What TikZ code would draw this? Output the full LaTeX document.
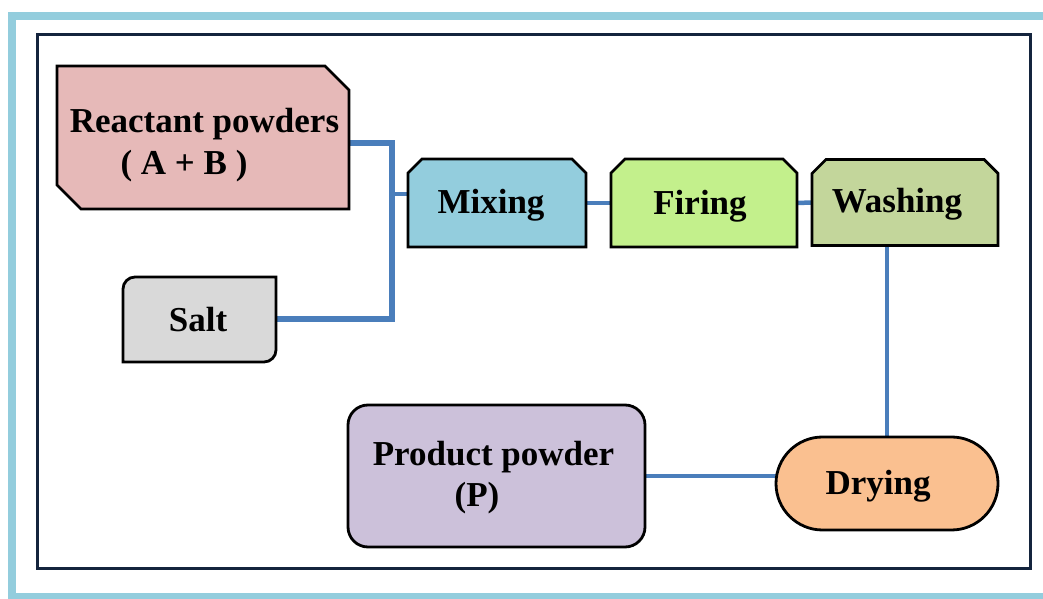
\documentclass[tikz,border=0pt]{standalone}
\usepackage{fontspec}
\setmainfont{Liberation Serif}
\usetikzlibrary{calc}

\definecolor{framecyan}{HTML}{93CDDD}
\definecolor{framenavy}{HTML}{14243D}
\definecolor{linkblue}{HTML}{4A7EBB}
\definecolor{reactpink}{HTML}{E6B9B8}
\definecolor{mixblue}{HTML}{93CDDD}
\definecolor{firegreen}{HTML}{C3F08C}
\definecolor{washolive}{HTML}{C3D69B}
\definecolor{saltgray}{HTML}{D9D9D9}
\definecolor{prodlilac}{HTML}{CCC1DA}
\definecolor{dryorange}{HTML}{FAC090}

% process box with both top corners cut off
\newcommand\chamfertop[2]{%
  \filldraw[outline, fill=#2]
    (#1.south west) -- ([yshift=-14pt]#1.north west) -- ([xshift=14pt]#1.north west)
    -- ([xshift=-14pt]#1.north east) -- ([yshift=-14pt]#1.north east)
    -- (#1.south east) -- cycle;}

\begin{document}
\begin{tikzpicture}[x=1pt,y=1pt,
  slot/.style={rectangle, draw=none, inner sep=0pt, outer sep=0pt},
  outline/.style={draw=black, line width=2.8pt, line join=miter},
  boxtext/.style={anchor=base, inner sep=0pt, font=\fontsize{35}{42}\selectfont\bfseries},
  link/.style={draw=linkblue, line width=3.5pt},
  midlink/.style={draw=linkblue, line width=4.5pt},
  thicklink/.style={draw=linkblue, line width=6pt},
]
\useasboundingbox (0,0) rectangle (1043,599);

% frames
\draw[framecyan, line width=8pt] (12,2) rectangle (1060,583);
\draw[framenavy, line width=3pt] (37,30) rectangle (1030,564.5);

% box placeholders (geometry and anchors)
\node[slot, minimum width=292pt, minimum height=143pt] (reactant) at (203,461.5) {};
\node[slot, minimum width=178pt, minimum height=88pt] (mixing) at (497,396) {};
\node[slot, minimum width=186pt, minimum height=88pt] (firing) at (704,396) {};
\node[slot, minimum width=186pt, minimum height=86pt] (washing) at (905,396.5) {};
\node[slot, minimum width=153pt, minimum height=85pt] (salt) at (199.5,279.5) {};
\node[slot, minimum width=297pt, minimum height=142pt] (product) at (496.5,123) {};
\node[slot, minimum width=222pt, minimum height=93pt] (drying) at (887,115.5) {};

% connectors
\coordinate (bustop) at (392,456);
\coordinate (busbot) at (392,279.5);
\coordinate (tap) at (392,405);
\draw[thicklink] (bustop -| reactant.east) -- (bustop) -- (busbot) -- (salt.east);
\draw[link] (tap) -- (tap -| mixing.west);
\draw[midlink] (mixing.east) -- (firing.west);
\draw[midlink] (firing.east) -- (washing.west);
\draw[link] ([xshift=-18pt]washing.south) -- ([xshift=-18pt]washing.south |- drying.north);
\draw[link] (product.east) -- (product.east -| drying.west);

% box outlines
\filldraw[outline, fill=reactpink]
  (reactant.north west) -- ([xshift=-24pt]reactant.north east)
  -- ([yshift=-24pt]reactant.north east) -- (reactant.south east)
  -- ([xshift=24pt]reactant.south west) -- ([yshift=24pt]reactant.south west) -- cycle;
\chamfertop{mixing}{mixblue}
\chamfertop{firing}{firegreen}
\chamfertop{washing}{washolive}
\filldraw[outline, fill=saltgray]
  ([xshift=12pt]salt.north west) -- (salt.north east)
  -- ([yshift=12pt]salt.south east) arc[start angle=0, end angle=-90, radius=12pt]
  -- (salt.south west) -- ([yshift=-12pt]salt.north west)
  arc[start angle=180, end angle=90, radius=12pt] -- cycle;
\filldraw[outline, fill=prodlilac, rounded corners=20pt]
  (product.north west) rectangle (product.south east);
\filldraw[outline, fill=dryorange]
  ([xshift=46.5pt]drying.north west) -- ([xshift=-46.5pt]drying.north east)
  arc[start angle=90, end angle=-90, radius=46.5pt]
  -- ([xshift=46.5pt]drying.south west)
  arc[start angle=270, end angle=90, radius=46.5pt] -- cycle;

% labels
\node[boxtext] (reactantA) at (204.5,466) {Reactant powders};
\node[boxtext] (reactantB) at (184,424) {( A + B )};
\node[boxtext] (mixingT) at (491,385) {Mixing};
\node[boxtext] (firingT) at (700,384) {Firing};
\node[boxtext] (washingT) at (897,386) {Washing};
\node[boxtext] (saltT) at (198,267) {Salt};
\node[boxtext] (productA) at (493.5,133) {Product powder};
\node[boxtext] (productB) at (477,92) {(P)};
\node[boxtext] (dryingT) at (878,104) {Drying};
\end{tikzpicture}
\end{document}
